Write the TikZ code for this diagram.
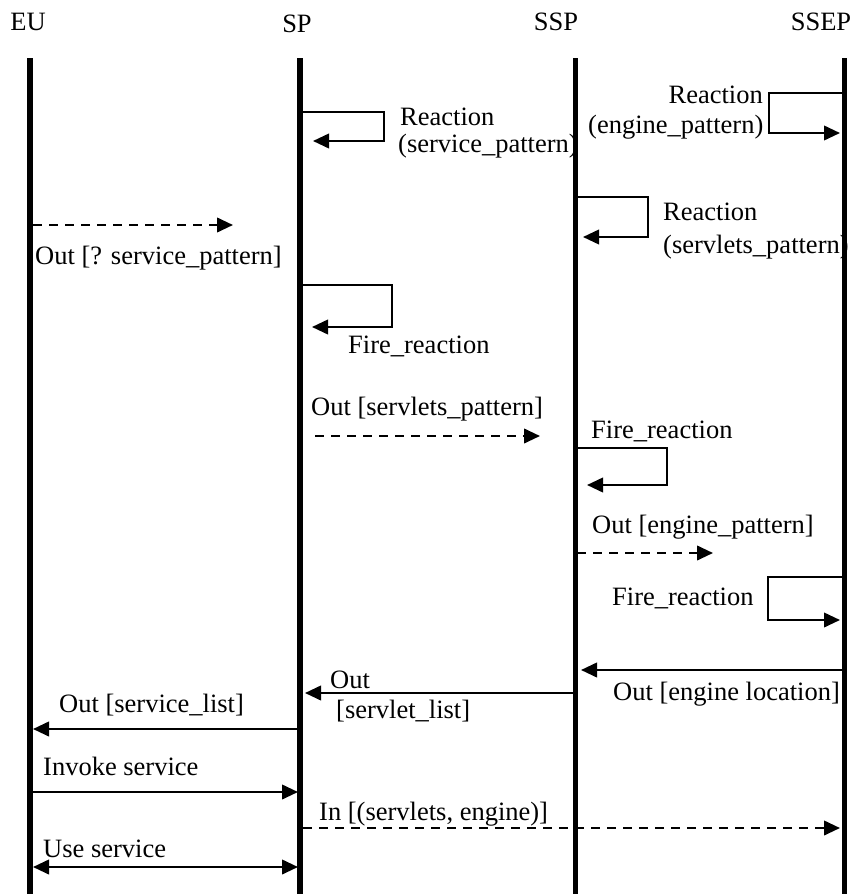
\documentclass[tikz,border=0pt]{standalone}
\usepackage{fontspec}
\setmainfont{Liberation Serif}
\usetikzlibrary{arrows.meta}
\begin{document}
\begin{tikzpicture}[x=1pt,y=-1pt,
  lbl/.style={anchor=base west,inner sep=0pt,font=\fontsize{26.5}{30}\selectfont},
  lblr/.style={lbl,anchor=base east},
  head/.style={lbl,anchor=base},
  lifeline/.style={line width=5.5pt},
  tip/.style={-{Triangle[length=16pt,width=14.5pt]}},
  msg/.style={line width=2.4pt,tip},
  dmsg/.style={msg,dash pattern=on 9pt off 7pt},
  selfmsg/.style={line width=2.3pt,tip,line join=miter},
]
\path[use as bounding box,fill=white] (0,0) rectangle (855,894);

% participants
\node[head] (hEU)   at (28,30)  {EU};
\node[head] (hSP)   at (297,32) {SP};
\node[head] (hSSP)  at (556,30) {SSP};
\node[head] (hSSEP) at (821,30) {SSEP};

\coordinate (euT) at (30,58);    \coordinate (euB) at (30,894);
\coordinate (spT) at (300,58);   \coordinate (spB) at (300,894);
\coordinate (sspT) at (575.5,58); \coordinate (sspB) at (575.5,894);
\coordinate (sepT) at (844.5,58); \coordinate (sepB) at (844.5,894);

% message labels
\node[lbl] (lRa1) at (400,125) {Reaction};
\node[lbl] (lRa2) at (398,152) {(service\_pattern)};
\node[lblr] (lRb1) at (763,103) {Reaction};
\node[lbl] (lRb2) at (588,133) {(engine\_pattern)};
\node[lbl] (lRc1) at (663,220) {Reaction};
\node[lbl] (lRc2) at (663,253) {(servlets\_pattern)};
\node[lbl] (lOut1) at (35,264) {Out [? service\_pattern]};
\node[lbl] (lFire1) at (348,353) {Fire\_reaction};
\node[lbl] (lOut2) at (311,415) {Out [servlets\_pattern]};
\node[lbl] (lFire2) at (591,438) {Fire\_reaction};
\node[lbl] (lOut3) at (592,533) {Out [engine\_pattern]};
\node[lbl] (lFire3) at (612,605) {Fire\_reaction};
\node[lbl] (lOut4) at (613,700) {Out [engine location]};
\node[lbl] (lOut5a) at (330,688) {Out};
\node[lbl] (lOut5b) at (336,718) {[servlet\_list]};
\node[lbl] (lOut6) at (59,712) {Out [service\_list]};
\node[lbl] (lInv) at (43,775) {Invoke service};
\node[lbl] (lIn) at (319,820) {In [(servlets, engine)]};
\node[lbl] (lUse) at (43,857) {Use service};

% lifelines
\draw[lifeline] (euT) -- (euB);
\draw[lifeline] (spT) -- (spB);
\draw[lifeline] (sspT) -- (sspB);
\draw[lifeline] (sepT) -- (sepB);

% self messages
\coordinate (s1a) at (300,112);  \coordinate (s1b) at (313,141);
\draw[selfmsg] (s1a) -- ++(84,0) |- (s1b);
\coordinate (s2a) at (844,93);   \coordinate (s2b) at (840,133);
\draw[selfmsg] (s2a) -- ++(-75,0) |- (s2b);
\coordinate (s3a) at (575,197);  \coordinate (s3b) at (583,237);
\draw[selfmsg] (s3a) -- ++(73,0) |- (s3b);
\coordinate (s4a) at (300,285);  \coordinate (s4b) at (312,327);
\draw[selfmsg] (s4a) -- ++(92,0) |- (s4b);
\coordinate (s5a) at (575,448);  \coordinate (s5b) at (587,485);
\draw[selfmsg] (s5a) -- ++(92,0) |- (s5b);
\coordinate (s6a) at (844,577);  \coordinate (s6b) at (840,620);
\draw[selfmsg] (s6a) -- ++(-76,0) |- (s6b);

% messages between participants
\coordinate (m1a) at (33,225);  \coordinate (m1b) at (233,225);
\draw[dmsg] (m1a) -- (m1b);
\coordinate (m2a) at (315,436); \coordinate (m2b) at (540,436);
\draw[dmsg] (m2a) -- (m2b);
\coordinate (m3a) at (577,553); \coordinate (m3b) at (713,553);
\draw[dmsg] (m3a) -- (m3b);
\coordinate (m4a) at (843,670); \coordinate (m4b) at (581,670);
\draw[msg] (m4a) -- (m4b);
\coordinate (m5a) at (573,693); \coordinate (m5b) at (305,693);
\draw[msg] (m5a) -- (m5b);
\coordinate (m6a) at (299,729); \coordinate (m6b) at (33,729);
\draw[msg] (m6a) -- (m6b);
\coordinate (m7a) at (31,792);  \coordinate (m7b) at (298,792);
\draw[msg] (m7a) -- (m7b);
\coordinate (m8a) at (303,828); \coordinate (m8b) at (840,828);
\draw[dmsg] (m8a) -- (m8b);
\coordinate (m9a) at (33,867);  \coordinate (m9b) at (298,867);
\draw[msg,{Triangle[length=16pt,width=14.5pt]}-{Triangle[length=16pt,width=14.5pt]}] (m9a) -- (m9b);
\end{tikzpicture}
\end{document}
